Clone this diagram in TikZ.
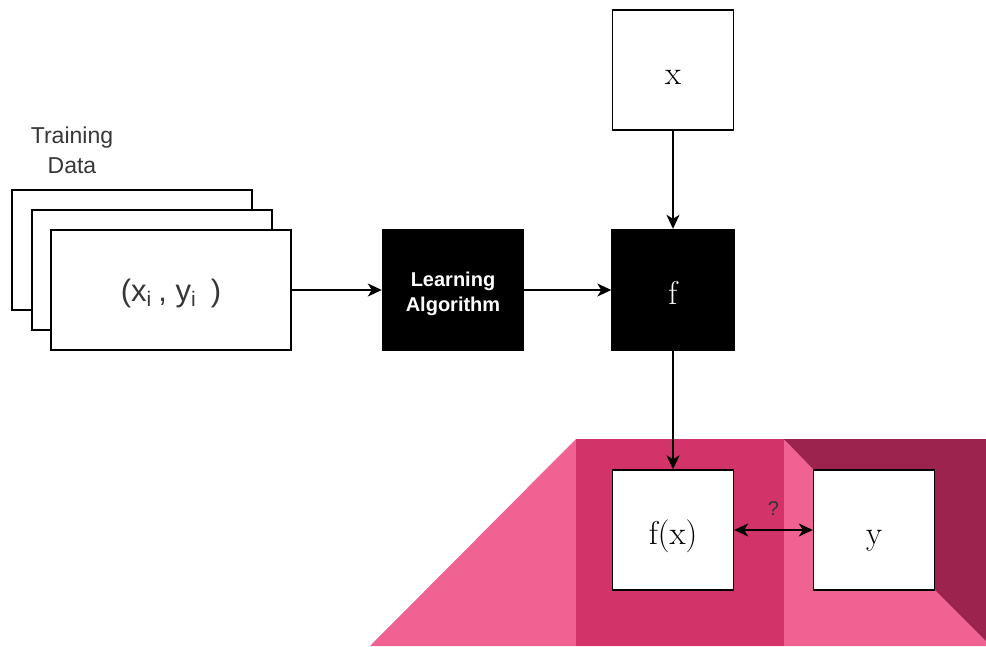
\documentclass[tikz,border=0pt]{standalone}
\usepackage{fontspec}
\newfontfamily\uisans{Liberation Sans}
\usetikzlibrary{arrows.meta}

\definecolor{pinklight}{RGB}{240,98,146}
\definecolor{pinkmid}{RGB}{210,51,105}
\definecolor{pinkdark}{RGB}{156,35,78}
\definecolor{labelgray}{RGB}{55,55,55}

\tikzset{
  card/.style={draw=black, fill=white, line width=1.4pt, minimum width=240pt, minimum height=120pt, inner sep=0pt},
  serifbig/.style={font=\fontsize{33}{36}\selectfont, text height=30pt, text depth=2pt},
  whitebox/.style={draw=black, fill=white, line width=1.4pt, minimum width=121pt, minimum height=120pt, inner sep=0pt, serifbig},
  blackbox/.style={draw=black, fill=black, text=white, line width=1.4pt, minimum height=121pt, inner sep=0pt},
  flow/.style={line width=1.4pt, -{Stealth[length=14pt,width=13pt,inset=4pt]}},
  both/.style={line width=1.4pt, {Stealth[length=14pt,width=13pt,inset=4pt]}-{Stealth[length=14pt,width=13pt,inset=4pt]}}
}

\begin{document}
\begin{tikzpicture}[x=1pt,y=-1pt]
\useasboundingbox (0,0) rectangle (986,646);

% coloured backdrop behind the comparison
\fill[pinklight] (370,646) -- (576,439) -- (986,439) -- (986,646) -- cycle;
\fill[pinkmid] (576,439) rectangle (784,646);
\fill[pinkdark] (784,439) -- (986,439) -- (986,641) -- (935,590) -- (935,470) -- (814,470) -- cycle;

% stack of training examples
\node[text=labelgray, align=center, font=\uisans\fontsize{23}{30}\selectfont] (tlabel) at (72,150) {Training\\Data};
\node[card] (back) at (132,250) {};
\node[card] (mid) at (152,270) {};
\node[card, font=\uisans\fontsize{31}{33}\selectfont, text=labelgray, text height=27pt, text depth=4pt] (data) at (171,290)
  {(x\raisebox{-5pt}{\fontsize{21}{21}\selectfont i}\hspace{7pt}, y\raisebox{-5pt}{\fontsize{21}{21}\selectfont i}\hspace{15pt})};

% learning algorithm and learned function
\node[blackbox, minimum width=141pt, align=center, font=\uisans\bfseries\fontsize{20}{28}\selectfont] (algo) at (453,290) {\strut\raisebox{-3pt}{Learning}\\Algorithm};
\node[blackbox, minimum width=122pt, serifbig] (f) at (673,290) {f};
\node[whitebox] (x) at (673,70) {x};

% prediction and true label
\node[whitebox] (fx) at (673,530) {f(x)};
\node[whitebox] (y) at (874,530) {y};

% connectors
\draw[flow] (data.east) -- (algo.west);
\draw[flow] (algo.east) -- (f.west);
\draw[flow] (x.south) -- (f.north);
\draw[flow] (f.south) -- (fx.north);
\draw[both] (fx.east) -- node[above=10pt, font=\uisans\fontsize{20}{22}\selectfont, text=black!80] (q) {?} (y.west);
\end{tikzpicture}
\end{document}
